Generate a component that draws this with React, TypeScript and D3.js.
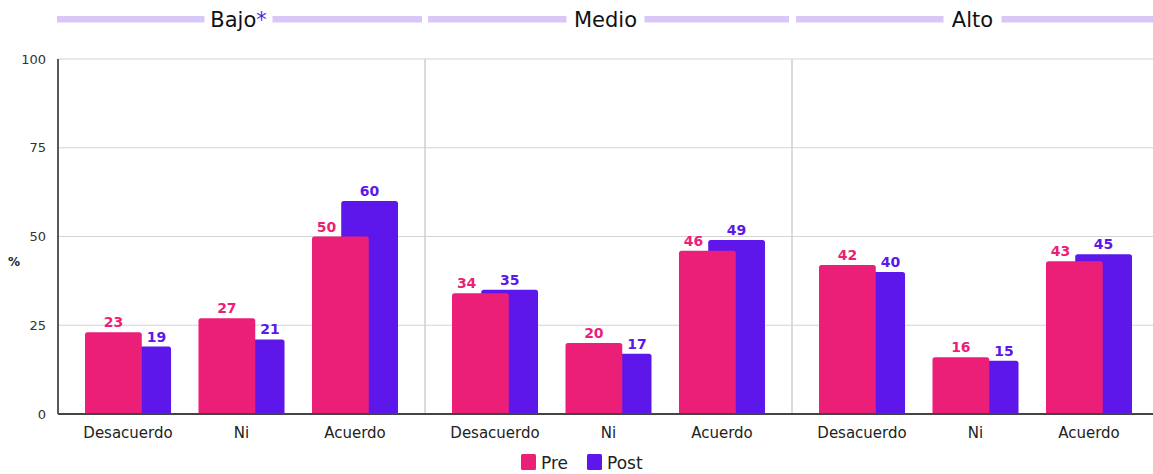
import React from "react";
import * as d3 from "d3";

const levels = ["Bajo", "Medio", "Alto"];
const categories = ["Desacuerdo", "Ni", "Acuerdo"];
const seriesNames = ["Pre", "Post"];
const preValues = [
  [23, 27, 50],
  [34, 20, 46],
  [42, 16, 43],
];
const postValues = [
  [19, 21, 60],
  [35, 17, 49],
  [40, 15, 45],
];
const yTicks = [0, 25, 50, 75, 100];

const PINK = "#EC1F78";
const PURPLE = "#5E17EB";
const LAVENDER = "#D9C8F7";
const FONT = "'DejaVu Sans', sans-serif";

const W = 1153;
const H = 474;

function topRounded(x: number, y: number, w: number, h: number, r: number) {
  const rr = Math.min(r, h, w / 2);
  return `M${x},${y + h}V${y + rr}Q${x},${y} ${x + rr},${y}H${x + w - rr}Q${x + w},${y} ${x + w},${y + rr}V${y + h}Z`;
}

export default function App() {
  const left = 58;
  const y = d3.scaleLinear().domain([0, 100]).range([414, 59]);
  const xPanel = d3.scaleBand<string>().domain(levels).range([left, left + 367 * 3]).padding(0);
  const panelW = xPanel.bandwidth();
  const xCat = d3
    .scaleBand<string>()
    .domain(categories)
    .range([0, panelW])
    .paddingInner(0.242)
    .paddingOuter(0.238);
  const bw = xCat.bandwidth();
  const barW = bw * 0.66;
  const off = bw - barW;

  const titleBars = [
    [57, 422],
    [428, 789],
    [796, 1160],
  ];

  return (
    <svg
      width={W}
      height={H}
      style={{ position: "absolute", left: 0, top: 0, background: "#fff" }}
      fontFamily={FONT}
    >
      {/* gridlines */}
      {yTicks.slice(1).map((t) => (
        <line key={t} x1={left} x2={W} y1={y(t)} y2={y(t)} stroke="#d4d4d4" strokeWidth={1.2} />
      ))}
      {/* panel separators */}
      {levels.slice(1).map((l) => (
        <line
          key={l}
          x1={xPanel(l)!}
          x2={xPanel(l)!}
          y1={y(100)}
          y2={y(0)}
          stroke="#cfcfcf"
          strokeWidth={1.5}
        />
      ))}
      {/* y tick labels */}
      {yTicks.map((t) => (
        <text key={t} x={46} y={y(t) + 4.5} textAnchor="end" fontSize={13} fill="#333">
          {t}
        </text>
      ))}
      <text x={14} y={266} textAnchor="middle" fontSize={12} fontWeight="bold" fill="#222">
        %
      </text>

      {/* titles */}
      {levels.map((l, i) => {
        const [a, b] = titleBars[i];
        const cx = xPanel(l)! + panelW / 2 - 3;
        const label = l;
        const tw = l === "Bajo" ? 56 : l === "Medio" ? 66 : 46;
        return (
          <g key={l}>
            <rect x={a} y={16} width={b - a} height={6.5} fill={LAVENDER} />
            <rect x={cx - tw / 2 - 6} y={4} width={tw + 12} height={28} fill="#fff" />
            <text x={cx} y={27} textAnchor="middle" fontSize={21} fill="#111">
              {label}
              {l === "Bajo" && <tspan fill={PURPLE}>*</tspan>}
            </text>
          </g>
        );
      })}

      {/* bars */}
      {levels.map((l, i) =>
        categories.map((c, j) => {
          const x0 = xPanel(l)! + xCat(c)!;
          const pre = preValues[i][j];
          const post = postValues[i][j];
          const preX = x0;
          const postX = x0 + off;
          let preLx: number, postLx: number;
          if (pre >= post) {
            preLx = preX + barW / 2;
            postLx = (preX + barW + postX + barW) / 2;
          } else {
            postLx = postX + barW / 2;
            preLx = (preX + postX) / 2;
          }
          return (
            <g key={l + c}>
              <path d={topRounded(postX, y(post), barW, y(0) - y(post), 2.5)} fill={PURPLE} />
              <path d={topRounded(preX, y(pre), barW, y(0) - y(pre), 2.5)} fill={PINK} />
              <text x={preLx} y={y(pre) - 5} textAnchor="middle" fontSize={14} fontWeight={600} fill={PINK}>
                {pre}
              </text>
              <text x={postLx} y={y(post) - 5} textAnchor="middle" fontSize={14} fontWeight={600} fill={PURPLE}>
                {post}
              </text>
              <text x={x0 + bw / 2} y={438} textAnchor="middle" fontSize={15} fill="#222">
                {c}
              </text>
            </g>
          );
        })
      )}

      {/* axes */}
      <line x1={left} x2={left} y1={y(100)} y2={y(0)} stroke="#222" strokeWidth={1.5} />
      <line x1={left} x2={W} y1={y(0)} y2={y(0)} stroke="#444" strokeWidth={2} />

      {/* legend */}
      {seriesNames.map((s, k) => {
        const lx = k === 0 ? 521 : 587;
        return (
          <g key={s}>
            <rect x={lx} y={454} width={15} height={16} rx={1.5} fill={k === 0 ? PINK : PURPLE} />
            <text x={lx + 20} y={469} fontSize={17} fill="#222">
              {s}
            </text>
          </g>
        );
      })}
    </svg>
  );
}
